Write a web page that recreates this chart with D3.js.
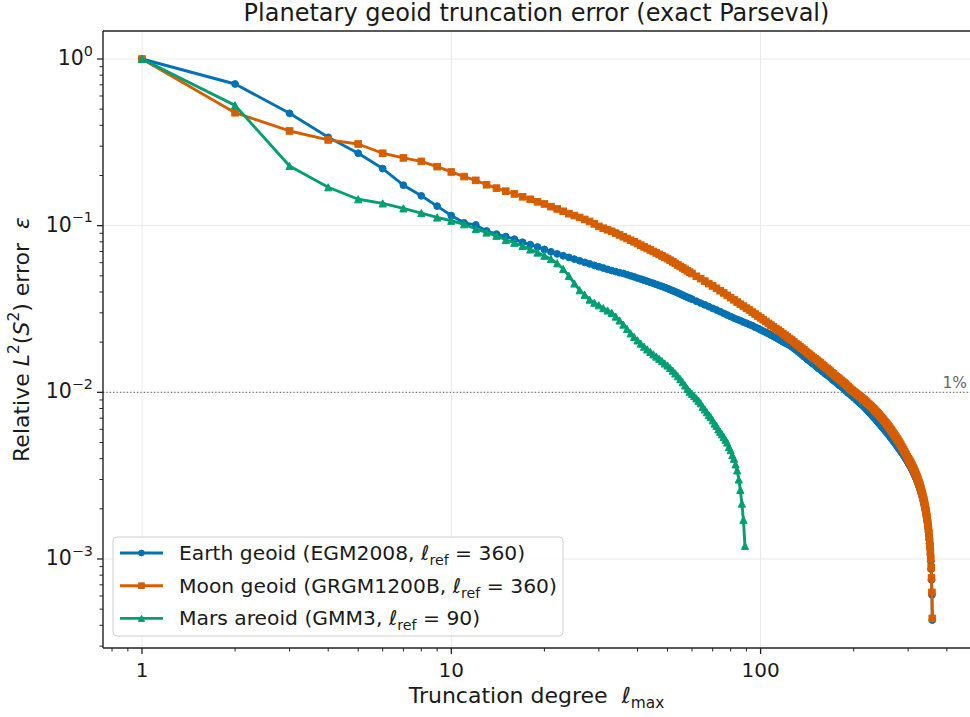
<!DOCTYPE html>
<html><head><meta charset="utf-8">
<script src="https://cdn.jsdelivr.net/npm/d3@7/dist/d3.min.js"></script>
<style>body{margin:0;background:#fff}svg text{font-family:"DejaVu Sans",sans-serif;fill:#1a1a1a}</style>
</head><body><svg id="c" width="970" height="717"></svg>
<script>
// ---------------- data ----------------
const degrees = [1,2,3,4,5,6,7,8,9,10,11,12,13,14,15,16,17,18,19,20,21,22,23,24,25,26,27,28,29,30,
31,32,33,34,35,36,37,38,39,40,41,42,43,44,45,46,47,48,49,50,51,52,53,54,55,56,57,58,59,60,
62,64,66,68,70,72,74,76,78,80,82,84,86,88,90,92,94,96,98,100,102,104,106,108,110,112,114,116,118,120,
122,124,126,128,130,132,134,136,138,140,142,144,146,148,150,152,154,156,158,160,
162,164,166,168,170,172,174,176,178,180,182,184,186,188,190,192,194,196,198,200,
202,204,206,208,210,212,214,216,218,220,222,224,226,228,230,232,234,236,238,240,
242,244,246,248,250,252,254,256,258,260,262,264,266,268,270,272,274,276,278,280,
282,284,286,288,290,292,294,296,298,300,
301,302,303,304,305,306,307,308,309,310,311,312,313,314,315,316,317,318,319,320,321,322,323,324,325,326,327,328,329,
330,331,332,333,334,335,336,337,338,339,340,341,342,343,344,345,346,347,348,349,350,351,352,353,354,355,356,357,358,359];

const earthErr = [1.0,0.708,0.472,0.339,0.272,0.220,0.175,0.151,0.131,0.115,0.104,0.101,0.093,0.089,0.086,0.083,0.0795,0.077,0.0745,0.072,
0.0697,0.0677,0.066,0.0645,0.063,0.0615,0.0602,0.0590,0.0578,0.0567,0.0557,0.0547,0.0538,0.0530,0.0522,0.0517,0.0508,0.0500,0.0493,0.0485,
0.0478,0.0471,0.0464,0.0457,0.0451,0.0444,0.0438,0.0432,0.0426,0.0420,0.0413,0.0407,0.0401,0.0395,0.0389,0.0383,0.0377,0.0372,0.0367,0.0362,
0.0352,0.0343,0.0335,0.0327,0.0319,0.0312,0.0305,0.0298,0.0291,0.0285,0.0279,0.0274,0.0269,0.0264,0.0260,0.0255,0.0251,0.0246,0.0242,0.0237,
0.0233,0.0229,0.0225,0.0221,0.0217,0.0213,0.0209,0.0205,0.0201,0.0198,
0.0195,0.0192,0.0188,0.0184,0.0180,0.0176,0.0172,0.0168,0.0164,0.0161,0.0157,0.0154,0.0151,0.0148,0.0145,0.0142,0.0139,0.0137,0.0134,0.0132,
0.0129,0.0127,0.0125,0.0123,0.0120,0.0118,0.0116,0.0114,0.0112,0.0110,0.0109,0.0107,0.0105,0.0103,0.0101,0.0099,0.0098,0.0096,0.0095,0.0093,
0.0092,0.0090,0.0089,0.0087,0.0086,0.00846,0.00833,0.00820,0.00805,0.00790,0.00777,0.00763,0.00750,0.00736,0.00723,0.00710,0.00698,0.00685,0.00672,0.00660,
0.00649,0.00637,0.00626,0.00615,0.00604,0.00594,0.00583,0.00573,0.00563,0.00553,0.00543,0.00533,0.00524,0.00514,0.00505,0.00496,0.00487,0.00478,0.00469,0.00461,
0.00452,0.00444,0.00436,0.00428,0.00420,0.00411,0.00403,0.00395,0.00387,0.00379,
0.00376,0.00372,0.00368,0.00364,0.00360,0.00356,0.00352,0.00348,0.00344,0.00340,0.00335,0.00331,0.00327,0.00323,0.00319,0.00315,0.00310,0.00306,0.00302,
0.00298,0.00293,0.00289,0.00284,0.00280,0.00275,0.00271,0.00266,0.00262,0.00257,
0.00252,0.00247,0.00243,0.00238,0.00233,0.00228,0.00223,0.00217,0.00212,0.00207,0.00201,0.00196,0.00190,0.00184,0.00178,0.00172,0.00166,0.00160,0.00153,0.00146,
0.00139,0.00132,0.00124,0.00116,0.00107,0.00097,0.00087,0.00075,0.00061,0.00043];

const moonErr = [1.0,0.476,0.370,0.327,0.309,0.272,0.255,0.243,0.226,0.210,0.197,0.187,0.176,0.168,0.161,0.155,0.149,0.144,0.139,0.135,
0.130,0.126,0.122,0.118,0.115,0.112,0.109,0.106,0.1025,0.0990,0.0965,0.0945,0.0925,0.0902,0.0880,0.0858,0.0837,0.0818,0.0800,0.0781,
0.0763,0.0746,0.0730,0.0715,0.0700,0.0686,0.0672,0.0659,0.0646,0.0634,0.0620,0.0607,0.0594,0.0581,0.0569,0.0558,0.0547,0.0536,0.0526,0.0516,
0.0497,0.0481,0.0465,0.0449,0.0435,0.0421,0.0407,0.0395,0.0382,0.0370,0.0359,0.0348,0.0338,0.0329,0.0320,0.0312,0.0303,0.0295,0.0287,0.0280,
0.0273,0.0266,0.0259,0.0253,0.0247,0.0241,0.0236,0.0231,0.0225,0.0220,
0.0215,0.0210,0.0206,0.0201,0.0196,0.0192,0.0188,0.0184,0.0180,0.0176,0.0172,0.0169,0.0165,0.0162,0.0159,0.0156,0.0153,0.0150,0.0147,0.0144,
0.0141,0.0139,0.0136,0.0134,0.0131,0.0129,0.0126,0.0124,0.0122,0.0120,0.0118,0.0116,0.0114,0.0112,0.0110,0.0108,0.0106,0.0104,0.01025,0.0101,
0.00996,0.00982,0.00968,0.00954,0.00941,0.00927,0.00913,0.00900,0.00887,0.00874,0.00860,0.00847,0.00834,0.00821,0.00808,0.00795,0.00782,0.00769,0.00756,0.00744,
0.00731,0.00718,0.00706,0.00694,0.00681,0.00668,0.00656,0.00644,0.00632,0.00620,0.00608,0.00596,0.00584,0.00572,0.00561,0.00549,0.00538,0.00527,0.00516,0.00505,
0.00494,0.00483,0.00472,0.00461,0.00451,0.00440,0.00430,0.00420,0.00410,0.00400,
0.00396,0.00391,0.00387,0.00383,0.00379,0.00374,0.00370,0.00365,0.00361,0.00357,0.00352,0.00348,0.00343,0.00339,0.00334,0.00330,0.00325,0.00320,0.00316,
0.00311,0.00306,0.00302,0.00297,0.00292,0.00287,0.00282,0.00278,0.00273,0.00268,
0.00263,0.00257,0.00252,0.00247,0.00242,0.00236,0.00231,0.00226,0.00220,0.00214,0.00209,0.00203,0.00197,0.00191,0.00184,0.00178,0.00172,0.00165,0.00158,0.00151,
0.00143,0.00135,0.00127,0.00119,0.00110,0.00100,0.00089,0.00077,0.00063,0.00044];

const marsDegrees = [1,2,3,4,5,6,7,8,9,10,11,12,13,14,15,16,17,18,19,20,21,22,23,24,25,26,27,28,29,30,
31,32,33,34,35,36,37,38,39,40,41,42,43,44,45,46,47,48,49,50,51,52,53,54,55,56,57,58,59,60,
61,62,63,64,65,66,67,68,69,70,71,72,73,74,75,76,77,78,79,80,81,82,83,84,85,86,87,88,89];
const marsErr = [1.0,0.527,0.228,0.170,0.144,0.136,0.127,0.119,0.112,0.107,0.102,0.0955,0.091,0.087,0.082,0.079,0.0755,0.072,0.069,0.066,
0.063,0.0595,0.055,0.050,0.045,0.041,0.0385,0.036,0.0345,0.0333,0.032,0.031,0.030,0.0285,0.027,0.0255,0.024,0.0226,0.0215,0.0205,
0.0196,0.0188,0.0181,0.0175,0.0169,0.0164,0.0159,0.0154,0.0149,0.0145,0.0140,0.0135,0.0130,0.0125,0.0120,0.0115,0.0110,0.0105,0.0101,0.0098,
0.0095,0.0092,0.0089,0.0086,0.0082,0.0079,0.0076,0.0073,0.0071,0.0068,0.0065,0.0063,0.0060,0.0058,0.0056,0.0054,0.0052,0.0050,0.0047,0.0045,
0.0042,0.0040,0.0037,0.0034,0.0030,0.0026,0.00215,0.00172,0.0012];

const seriesNames = ["Earth geoid (EGM2008, ", "Moon geoid (GRGM1200B, ", "Mars areoid (GMM3, "];
const seriesRef = ["360", "360", "90"];
const seriesColors = ["#0072B2", "#D55E00", "#009E73"];
const seriesMarkers = ["circle", "square", "triangle"];

const xMajorTicks = [1, 10, 100];
const xTickLabels = ["1", "10", "100"];
const yMajorTicks = [1, 0.1, 0.01, 0.001];
const yTickExponents = ["0", "\u22121", "\u22122", "\u22123"];
const thresholdValue = 0.01;
const thresholdLabel = "1%";
const titleText = "Planetary geoid truncation error (exact Parseval)";

// ---------------- layout ----------------
const L = 103, R = 971, T = 31, B = 648;
const svg = d3.select("#c");
const x = d3.scaleLog().domain([1, 100]).range([142, 760.6]);
const y = d3.scaleLog().domain([1, 0.001]).range([59, 559]);
const xLo = x.invert(L), xHi = x.invert(R), yLo = y.invert(B), yHi = y.invert(T);

function rich(sel, parts, fs) {
  let shift = 0;
  parts.forEach(p => {
    const t = sel.append("tspan").text(p.t);
    let target = 0, size = fs;
    if (p.sub) { target = 0.24 * fs; size = 0.7 * fs; }
    if (p.sup) { target = -0.45 * fs; size = 0.7 * fs; }
    t.attr("font-size", size);
    if (target !== shift) { t.attr("dy", target - shift); shift = target; }
    if (p.it) t.attr("font-style", "italic");
  });
}

svg.append("defs").append("clipPath").attr("id", "clip")
  .append("rect").attr("x", L).attr("y", T).attr("width", R - L).attr("height", B - T);

// grid
const grid = svg.append("g");
xMajorTicks.forEach(v => grid.append("line").attr("x1", x(v)).attr("x2", x(v)).attr("y1", T).attr("y2", B)
  .attr("stroke", "#e8e8e8").attr("stroke-width", 1));
yMajorTicks.forEach(v => grid.append("line").attr("x1", L).attr("x2", R).attr("y1", y(v)).attr("y2", y(v))
  .attr("stroke", "#e8e8e8").attr("stroke-width", 1));

// threshold
svg.append("line").attr("x1", L).attr("x2", R).attr("y1", y(thresholdValue)).attr("y2", y(thresholdValue))
  .attr("stroke", "#777").attr("stroke-width", 1.1).attr("stroke-dasharray", "1.2,2.2");
svg.append("text").attr("x", 967).attr("y", y(thresholdValue) - 4).attr("text-anchor", "end")
  .attr("font-size", 15.5).style("fill", "#666").text(thresholdLabel);

// series
const data = [
  degrees.map((d, i) => [d, earthErr[i]]),
  degrees.map((d, i) => [d, moonErr[i]]),
  marsDegrees.map((d, i) => [d, marsErr[i]])
];
const line = d3.line().x(d => x(d[0])).y(d => y(d[1]));

function marker(g, type, cx, cy, color, sc) {
  if (type === "circle") {
    g.append("circle").attr("cx", cx).attr("cy", cy).attr("r", 3.4 * sc).attr("fill", color).attr("stroke", color).attr("stroke-width", 1);
  } else if (type === "square") {
    const h = 3.3 * sc;
    g.append("rect").attr("x", cx - h).attr("y", cy - h).attr("width", 2 * h).attr("height", 2 * h).attr("fill", color).attr("stroke", color).attr("stroke-width", 1);
  } else {
    const s = 3.6 * sc;
    g.append("path").attr("d", `M${cx},${cy - s}L${cx - s},${cy + s}L${cx + s},${cy + s}Z`).attr("fill", color).attr("stroke", color).attr("stroke-width", 1).attr("stroke-linejoin", "miter");
  }
}

const plot = svg.append("g").attr("clip-path", "url(#clip)");
data.forEach((ser, k) => {
  const g = plot.append("g");
  g.append("path").datum(ser).attr("d", line).attr("fill", "none").attr("stroke", seriesColors[k])
    .attr("stroke-width", 2.9).attr("stroke-linejoin", "round");
  ser.forEach(d => marker(g, seriesMarkers[k], x(d[0]), y(d[1]), seriesColors[k], 1));
});

// spines
const sp = svg.append("g").attr("stroke", "#222").attr("stroke-width", 1.4);
sp.append("line").attr("x1", L).attr("x2", L).attr("y1", T).attr("y2", B);
sp.append("line").attr("x1", L).attr("x2", R).attr("y1", B).attr("y2", B);
sp.append("line").attr("x1", L).attr("x2", R).attr("y1", T).attr("y2", T);
sp.append("line").attr("x1", R).attr("x2", R).attr("y1", T).attr("y2", B);

// ticks
const tk = svg.append("g").attr("stroke", "#222");
const xMinor = [], yMinor = [];
for (let e = -1; e <= 3; e++) for (let m = 2; m <= 9; m++) { const v = m * Math.pow(10, e); if (v > xLo && v < xHi) xMinor.push(v); }
for (let e = -4; e <= 0; e++) for (let m = 2; m <= 9; m++) { const v = m * Math.pow(10, e); if (v > yLo && v < yHi) yMinor.push(v); }
xMajorTicks.forEach(v => tk.append("line").attr("x1", x(v)).attr("x2", x(v)).attr("y1", B).attr("y2", B + 6).attr("stroke-width", 1.3));
xMinor.forEach(v => tk.append("line").attr("x1", x(v)).attr("x2", x(v)).attr("y1", B).attr("y2", B + 3.5).attr("stroke-width", 1));
yMajorTicks.forEach(v => tk.append("line").attr("x1", L - 6).attr("x2", L).attr("y1", y(v)).attr("y2", y(v)).attr("stroke-width", 1.3));
yMinor.forEach(v => tk.append("line").attr("x1", L - 3.5).attr("x2", L).attr("y1", y(v)).attr("y2", y(v)).attr("stroke-width", 1));

xMajorTicks.forEach((v, i) => svg.append("text").attr("x", x(v)).attr("y", 677).attr("text-anchor", "middle")
  .attr("font-size", 20).text(xTickLabels[i]));
yMajorTicks.forEach((v, i) => {
  const t = svg.append("text").attr("x", 93).attr("y", y(v) + 6).attr("text-anchor", "end").attr("font-size", 20.5);
  rich(t, [{ t: "10" }, { t: yTickExponents[i], sup: true }], 20.5);
});

// labels
svg.append("text").attr("x", (L + 970) / 2).attr("y", 21).attr("text-anchor", "middle").attr("font-size", 24).text(titleText);
const xl = svg.append("text").attr("x", (L + 970) / 2).attr("y", 703).attr("text-anchor", "middle").attr("font-size", 22);
rich(xl, [{ t: "Truncation degree\u00a0\u00a0" }, { t: "\u2113", it: true }, { t: "max", sub: true }], 22);
const yl = svg.append("text").attr("transform", `translate(29,${(T + B) / 2}) rotate(-90)`).attr("text-anchor", "middle").attr("font-size", 22);
rich(yl, [{ t: "Relative " }, { t: "L", it: true }, { t: "2", sup: true }, { t: "(" }, { t: "S", it: true }, { t: "2", sup: true }, { t: ") error\u00a0\u00a0" }, { t: "\u03b5", it: true }], 22);

// legend
const lg = svg.append("g");
lg.append("rect").attr("x", 113).attr("y", 537).attr("width", 450).attr("height", 99).attr("rx", 4)
  .attr("fill", "#fff").attr("fill-opacity", 0.85).attr("stroke", "#cfcfcf").attr("stroke-width", 1);
seriesNames.forEach((name, k) => {
  const cy = 553 + k * 32.7;
  lg.append("line").attr("x1", 120).attr("x2", 163).attr("y1", cy).attr("y2", cy).attr("stroke", seriesColors[k]).attr("stroke-width", 2.9);
  marker(lg, seriesMarkers[k], 141.5, cy, seriesColors[k], 0.85);
  const t = lg.append("text").attr("x", 179).attr("y", cy + 7).attr("font-size", 20.3);
  rich(t, [{ t: name }, { t: "\u2113", it: true }, { t: "ref", sub: true }, { t: " = " + seriesRef[k] + ")" }], 20.3);
});
</script></body></html>
